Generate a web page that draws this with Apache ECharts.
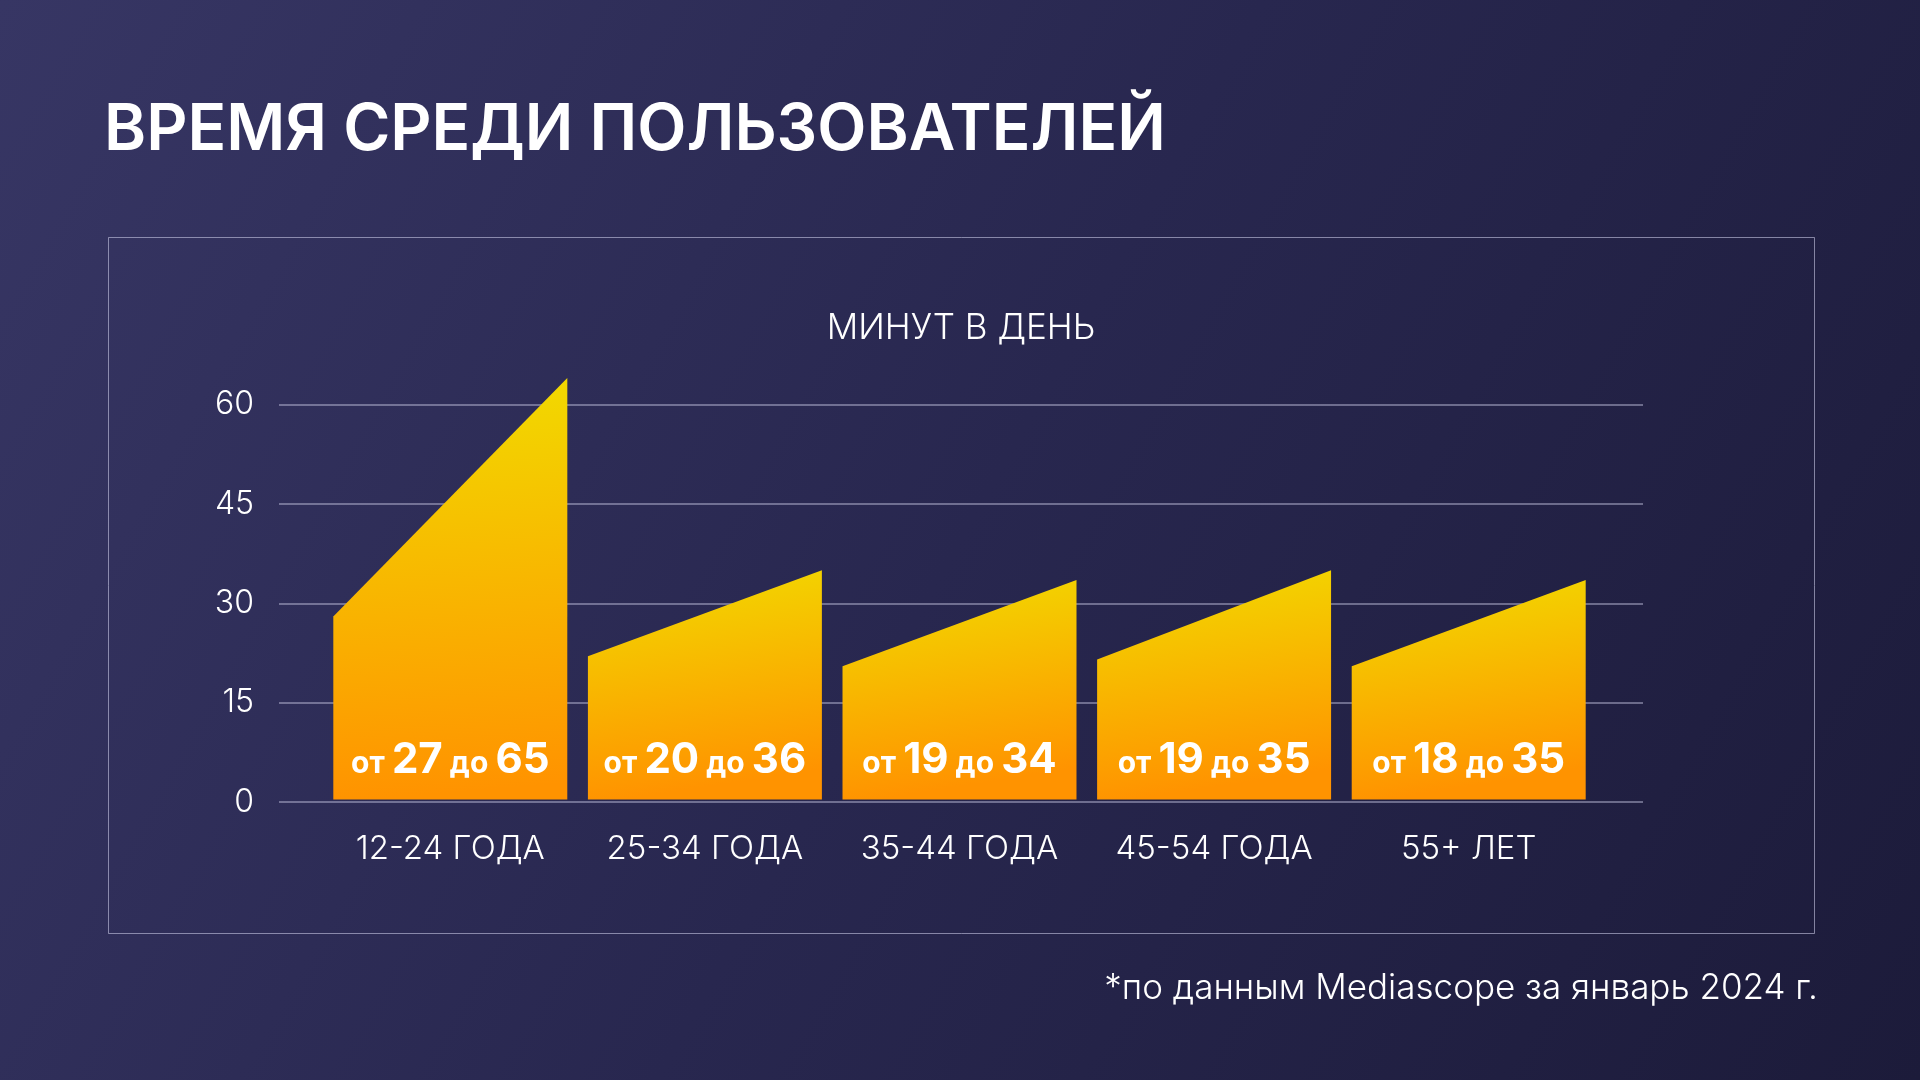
<!DOCTYPE html>
<html>
<head>
<meta charset="utf-8">
<script src="https://cdn.jsdelivr.net/npm/echarts@6/dist/echarts.min.js"></script>
<style>
html,body{margin:0;padding:0;width:1920px;height:1080px;overflow:hidden;background:#2a2950;}
#chart{width:1920px;height:1080px;}
</style>
</head>
<body>
<div id="chart"></div>
<script>
// ---- data ----
const categories = ['12-24 ГОДА', '25-34 ГОДА', '35-44 ГОДА', '45-54 ГОДА', '55+ ЛЕТ'];
const rangeStart = [28, 22, 20.5, 21.5, 20.5];   // drawn left edge height (minutes)
const rangeEnd   = [64, 35, 33.5, 35, 33.5];     // drawn right edge height (minutes)
const labelFrom  = [27, 20, 19, 19, 18];
const labelTo    = [65, 36, 34, 35, 35];
const yMin = 0, yMax = 60, yStep = 15;

const titleText = 'ВРЕМЯ СРЕДИ ПОЛЬЗОВАТЕЛЕЙ';
const unitText = 'МИНУТ В ДЕНЬ';
const sourceText = '*по данным Mediascope за январь 2024 г.';

const FONT = 'Inter, "Noto Sans", "DejaVu Sans", sans-serif';

const seriesData = categories.map((c, i) => [i, rangeStart[i], rangeEnd[i], labelFrom[i], labelTo[i]]);

const chart = echarts.init(document.getElementById('chart'), null, {renderer: 'canvas'});

const option = {
  backgroundColor: {
    type: 'linear', x: 0, y: 0, x2: 1, y2: 1,
    colorStops: [
      {offset: 0, color: '#373664'},
      {offset: 0.5, color: '#28274f'},
      {offset: 1, color: '#1c1b3a'}
    ]
  },
  animation: false,
  title: {
    text: titleText,
    left: 99,
    top: 94,
    textStyle: {color: '#ffffff', fontSize: 64, fontWeight: 600, fontFamily: FONT}
  },
  graphic: [
    {
      type: 'rect', silent: true,
      shape: {x: 108.5, y: 237.5, width: 1706, height: 696},
      style: {fill: 'none', stroke: 'rgba(200,200,228,0.6)', lineWidth: 1}
    },
    {
      type: 'text', silent: true,
      x: 961, y: 328,
      style: {text: unitText, fill: '#ffffff', font: '300 35px ' + FONT, align: 'center', verticalAlign: 'middle'}
    },
    {
      type: 'text', silent: true,
      x: 1818, y: 988,
      style: {text: sourceText, fill: '#ffffff', font: '300 35px ' + FONT, align: 'right', verticalAlign: 'middle'}
    }
  ],
  grid: [
    {left: 279, right: 277, top: 404.6, bottom: 278, containLabel: false},
    {left: 323, right: 324, top: 404.6, bottom: 278, containLabel: false}
  ],
  xAxis: [
    {gridIndex: 0, type: 'value', min: 0, max: 1, show: false},
    {
      gridIndex: 1, type: 'category', data: categories,
      axisLine: {show: false}, axisTick: {show: false}, splitLine: {show: false},
      axisLabel: {color: '#ffffff', fontSize: 33, fontWeight: 300, fontFamily: FONT, margin: 31, interval: 0}
    }
  ],
  yAxis: [
    {
      gridIndex: 0, type: 'value', min: yMin, max: yMax, interval: yStep,
      axisLine: {show: false}, axisTick: {show: false},
      splitLine: {show: true, lineStyle: {color: 'rgba(200,200,228,0.6)', width: 1.5}},
      axisLabel: {color: '#ffffff', fontSize: 32, fontWeight: 300, fontFamily: FONT, margin: 25}
    },
    {gridIndex: 1, type: 'value', min: yMin, max: yMax, interval: yStep, show: false}
  ],
  series: [{
    type: 'custom',
    xAxisIndex: 1, yAxisIndex: 1,
    clip: false,
    data: seriesData,
    renderItem: function (params, api) {
      const idx = api.value(0);
      const bandW = api.size([1, 0])[0];
      const w = bandW * 0.919;
      const base = api.coord([idx, 0]);
      const pS = api.coord([idx, api.value(1)]);
      const pE = api.coord([idx, api.value(2)]);
      const x0 = base[0] - w / 2, x1 = base[0] + w / 2;
      const yb = base[1] - 2.5;
      return {
        type: 'group',
        children: [
          {
            type: 'polygon',
            shape: {points: [[x0, yb], [x0, pS[1]], [x1, pE[1]], [x1, yb]]},
            style: {
              fill: {
                type: 'linear', x: 0, y: 0, x2: 0.15, y2: 1,
                colorStops: [{offset: 0, color: '#f1dc00'}, {offset: 1, color: '#ff9300'}]
              }
            }
          },
          {
            type: 'text',
            x: base[0], y: yb - 39,
            style: {
              text: '{s|от }{b|' + api.value(3) + '}{s| до }{b|' + api.value(4) + '}',
              align: 'center', verticalAlign: 'middle',
              rich: {
                s: {fill: '#ffffff', fontSize: 30, fontWeight: 700, fontFamily: FONT, verticalAlign: 'bottom', padding: [0, 0, 3, 0]},
                b: {fill: '#ffffff', fontSize: 42, fontWeight: 700, fontFamily: FONT, verticalAlign: 'bottom'}
              }
            }
          }
        ]
      };
    }
  }]
};

chart.setOption(option);
</script>
</body>
</html>
